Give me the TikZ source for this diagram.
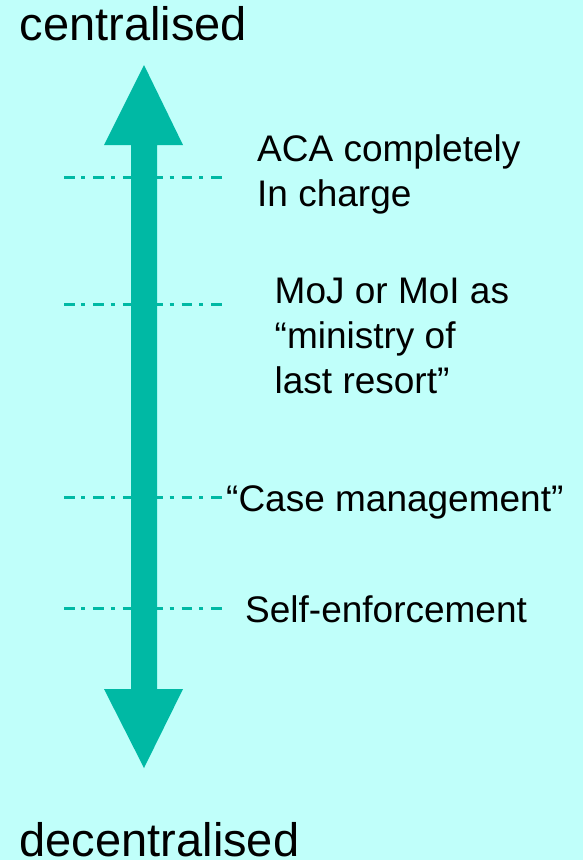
\documentclass[tikz,border=0pt]{standalone}
\usepackage{fontspec}
\setmainfont{Liberation Sans}
\definecolor{bgc}{RGB}{192,255,250}
\definecolor{teal1}{RGB}{0,185,164}
\begin{document}
\begin{tikzpicture}[x=1pt,y=-1pt,
  bigtxt/.style={anchor=base west,inner sep=0pt,font=\fontsize{47}{56}\selectfont},
  lbl/.style={anchor=base west,inner sep=0pt,align=left,font=\fontsize{37}{45}\selectfont},
  tick/.style={draw=teal1,line width=3pt,dash pattern=on 10.7pt off 6.7pt on 4pt off 8pt}]
\fill[bgc] (0,0) rectangle (583,860);
\useasboundingbox (0,0) rectangle (583,860);
% dash-dot level marks
\foreach \yy/\nm in {177/a,304/b,497/c,608/d}{
  \coordinate (\nm L) at (64,\yy);
  \coordinate (\nm R) at (222,\yy);
  \draw[tick] (\nm L) -- (\nm R);
}
% double arrow
\fill[teal1] (144,65) -- (183,145) -- (157,145) -- (157,689) -- (183,689)
  -- (144,768) -- (104,689) -- (131,689) -- (131,145) -- (104,145) -- cycle;
\node[bigtxt] (top) at (19.5,40.5) {centralised};
\node[bigtxt] (bot) at (19.5,856) {decentralised};
% multi-line nodes: base anchor is the baseline of the last line
\node[lbl] (aca) at (257,206) {ACA completely\\In charge};
\node[lbl] (moj) at (274.5,393) {MoJ or MoI as\\“ministry of\\last resort”};
\node[lbl] (case) at (226,511) {“Case management”};
\node[lbl] (self) at (245,622) {Self-enforcement};
\end{tikzpicture}
\end{document}
